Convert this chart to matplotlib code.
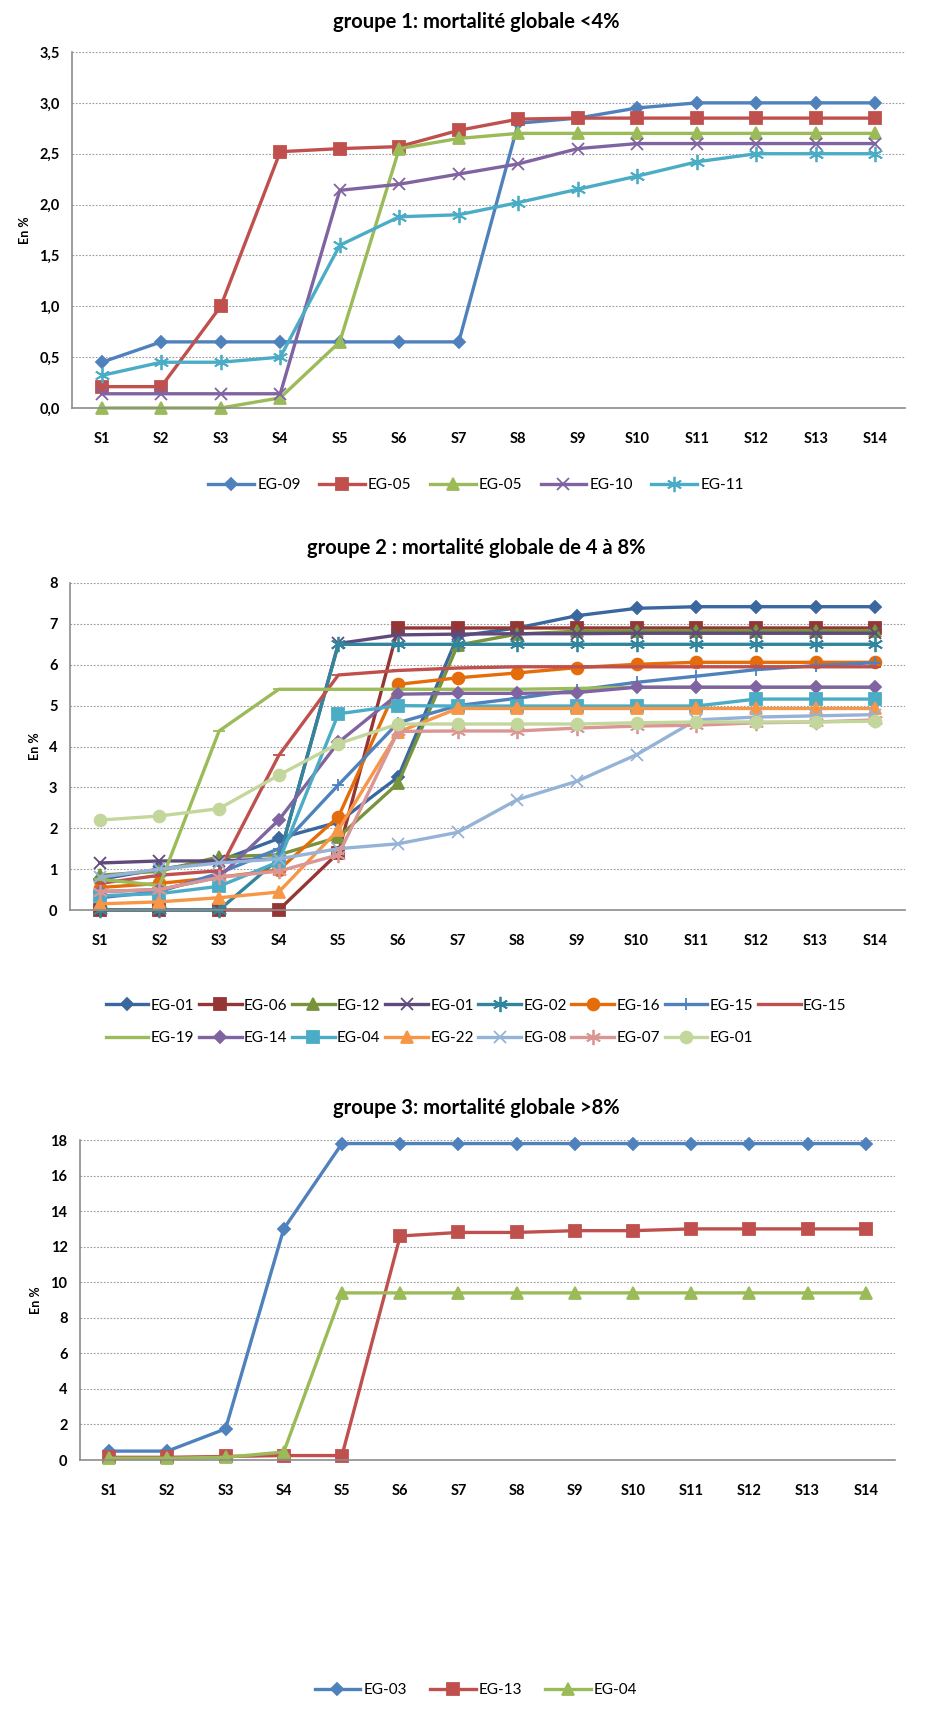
import matplotlib
matplotlib.use("Agg")
import matplotlib.pyplot as plt
from matplotlib.ticker import FuncFormatter, MultipleLocator

plt.rcParams["font.family"] = ["Lato", "DejaVu Sans"]

weeks = ["S1", "S2", "S3", "S4", "S5", "S6", "S7", "S8", "S9", "S10", "S11", "S12", "S13", "S14"]

# groupe 1
g1_labels = ["EG-09", "EG-05", "EG-05", "EG-10", "EG-11"]
g1_eg09 = [0.45, 0.65, 0.65, 0.65, 0.65, 0.65, 0.65, 2.80, 2.85, 2.95, 3.00, 3.00, 3.00, 3.00]
g1_eg05a = [0.21, 0.21, 1.00, 2.52, 2.55, 2.57, 2.73, 2.84, 2.85, 2.85, 2.85, 2.85, 2.85, 2.85]
g1_eg05b = [0.00, 0.00, 0.00, 0.10, 0.65, 2.55, 2.65, 2.70, 2.70, 2.70, 2.70, 2.70, 2.70, 2.70]
g1_eg10 = [0.14, 0.14, 0.14, 0.14, 2.14, 2.20, 2.30, 2.40, 2.55, 2.60, 2.60, 2.60, 2.60, 2.60]
g1_eg11 = [0.32, 0.45, 0.45, 0.50, 1.60, 1.88, 1.90, 2.02, 2.15, 2.28, 2.42, 2.50, 2.50, 2.50]

# groupe 2
g2_labels = ["EG-01", "EG-06", "EG-12", "EG-01", "EG-02", "EG-16", "EG-15", "EG-15",
             "EG-19", "EG-14", "EG-04", "EG-22", "EG-08", "EG-07", "EG-01"]
g2_eg01a = [0.75, 1.00, 1.20, 1.75, 2.15, 3.25, 6.70, 6.90, 7.20, 7.38, 7.42, 7.42, 7.42, 7.42]
g2_eg06 = [0.00, 0.00, 0.00, 0.00, 1.40, 6.90, 6.90, 6.90, 6.90, 6.90, 6.90, 6.90, 6.90, 6.90]
g2_eg12 = [0.85, 0.95, 1.30, 1.35, 1.78, 3.10, 6.48, 6.75, 6.82, 6.83, 6.83, 6.83, 6.83, 6.83]
g2_eg01b = [1.15, 1.20, 1.20, 1.25, 6.52, 6.73, 6.75, 6.76, 6.76, 6.77, 6.77, 6.77, 6.77, 6.77]
g2_eg02 = [0.00, 0.00, 0.00, 1.25, 6.50, 6.50, 6.50, 6.50, 6.50, 6.50, 6.50, 6.50, 6.50, 6.50]
g2_eg16 = [0.55, 0.65, 0.80, 0.98, 2.28, 5.52, 5.68, 5.80, 5.93, 6.01, 6.06, 6.06, 6.06, 6.06]
g2_eg15a = [0.30, 0.45, 0.90, 1.50, 3.06, 4.58, 5.00, 5.18, 5.38, 5.57, 5.72, 5.88, 5.98, 6.05]
g2_eg15b = [0.65, 0.85, 0.96, 3.78, 5.75, 5.86, 5.92, 5.95, 5.95, 5.95, 5.95, 5.95, 5.95, 5.95]
g2_eg19 = [0.75, 0.60, 4.38, 5.40, 5.40, 5.40, 5.40, 5.40, 5.42, 5.45, 5.45, 5.45, 5.45, 5.45]
g2_eg14 = [0.45, 0.50, 0.80, 2.20, 4.10, 5.28, 5.30, 5.30, 5.32, 5.45, 5.45, 5.45, 5.45, 5.45]
g2_eg04 = [0.35, 0.40, 0.58, 1.18, 4.80, 5.00, 4.99, 4.99, 4.99, 4.99, 4.99, 5.16, 5.16, 5.16]
g2_eg22 = [0.15, 0.20, 0.30, 0.44, 1.96, 4.35, 4.93, 4.93, 4.93, 4.93, 4.93, 4.93, 4.93, 4.93]
g2_eg08 = [0.80, 1.00, 1.15, 1.25, 1.50, 1.62, 1.90, 2.70, 3.15, 3.80, 4.65, 4.72, 4.75, 4.78]
g2_eg07 = [0.45, 0.50, 0.80, 0.95, 1.35, 4.37, 4.38, 4.38, 4.45, 4.50, 4.52, 4.58, 4.60, 4.65]
g2_eg01c = [2.20, 2.30, 2.48, 3.30, 4.07, 4.55, 4.55, 4.55, 4.55, 4.58, 4.60, 4.60, 4.60, 4.62]

# groupe 3
g3_labels = ["EG-03", "EG-13", "EG-04"]
g3_eg03 = [0.5, 0.5, 1.75, 13.0, 17.8, 17.8, 17.8, 17.8, 17.8, 17.8, 17.8, 17.8, 17.8, 17.8]
g3_eg13 = [0.15, 0.15, 0.2, 0.25, 0.25, 12.6, 12.8, 12.8, 12.9, 12.9, 13.0, 13.0, 13.0, 13.0]
g3_eg04 = [0.1, 0.1, 0.15, 0.45, 9.4, 9.4, 9.4, 9.4, 9.4, 9.4, 9.4, 9.4, 9.4, 9.4]

# Excel 2007 style palette and marker cycle
colors6 = ["#4F81BD", "#C0504D", "#9BBB59", "#8064A2", "#4BACC6", "#F79646"]
colors2 = ["#3A679E", "#963634", "#77933C", "#604A7B", "#31859C", "#E46C0A",
           "#4F81BD", "#C0504D", "#9BBB59", "#8064A2", "#4BACC6", "#F79646",
           "#95B3D7", "#D99694", "#C3D69B"]
STAR = (6, 2, 0)  # asterisk like Excel's star marker
markers = ["D", "s", "^", "x", STAR, "o", "+", "_", "_", "D", "s", "^", "x", STAR, "o"]


def msize(m):
    sizes = {"D": 6.5, "s": 8.5, "^": 8.5, "x": 8, "o": 8.5, "+": 9, "_": 9}
    return sizes.get(m, 10) if isinstance(m, str) else 11


fig = plt.figure(figsize=(9.52, 17.11), dpi=100)
H = 1711.0
W = 952.0


def make_axes(left, right, top, bottom):
    return fig.add_axes([left / W, 1 - bottom / H, (right - left) / W, (bottom - top) / H])


def style_axes(ax, ymax, step, comma=False):
    x = list(range(len(weeks)))
    ax.set_xlim(-0.5, len(weeks) - 0.5)
    ax.set_ylim(0, ymax)
    ax.set_xticks(x)
    ax.set_xticklabels(weeks, fontsize=10.5, fontweight="bold")
    ax.yaxis.set_major_locator(MultipleLocator(step))
    if comma:
        ax.yaxis.set_major_formatter(FuncFormatter(lambda v, p: f"{v:.1f}".replace(".", ",")))
    else:
        ax.yaxis.set_major_formatter(FuncFormatter(lambda v, p: f"{v:.0f}"))
    for lab in ax.get_yticklabels():
        lab.set_fontweight("bold")
        lab.set_fontsize(10.5)
    ax.tick_params(axis="x", length=0, pad=17)
    ax.tick_params(axis="y", length=0, pad=9)
    ax.grid(axis="y", color="#9a9a9a", linestyle=(0, (1.5, 1.5)), linewidth=0.8)
    ax.set_axisbelow(True)
    for s in ["top", "right"]:
        ax.spines[s].set_visible(False)
    for s in ["left", "bottom"]:
        ax.spines[s].set_color("#8c8c8c")
        ax.spines[s].set_linewidth(1.2)
    ax.set_ylabel("En %", fontsize=9, fontweight="bold", labelpad=6)


def plot_series(ax, series, labels, cols, mks):
    x = list(range(len(weeks)))
    handles = []
    for y, lab, c, m in zip(series, labels, cols, mks):
        h, = ax.plot(x, y, color=c, lw=2.4, marker=m, markersize=msize(m),
                     markeredgecolor=c, markerfacecolor=c, markeredgewidth=1.3,
                     label=lab, clip_on=False)
        handles.append(h)
    return handles


# groupe 1
ax1 = make_axes(72, 905, 52, 408)
h1 = plot_series(ax1, [g1_eg09, g1_eg05a, g1_eg05b, g1_eg10, g1_eg11], g1_labels,
                 colors6[:5], ["D", "s", "^", "x", STAR])
style_axes(ax1, 3.5, 0.5, comma=True)
fig.text(0.5, 1 - 22 / H, "groupe 1: mortalité globale <4%", ha="center", va="center",
         fontsize=14.5, fontweight="bold")
fig.legend(handles=h1, loc="center", bbox_to_anchor=(0.5, 1 - 485 / H), ncol=5,
           frameon=False, fontsize=11, handlelength=3, columnspacing=1.2, handletextpad=0.2)

# groupe 2
ax2 = make_axes(70, 905, 583, 910)
g2_series = [g2_eg01a, g2_eg06, g2_eg12, g2_eg01b, g2_eg02, g2_eg16, g2_eg15a, g2_eg15b,
             g2_eg19, g2_eg14, g2_eg04, g2_eg22, g2_eg08, g2_eg07, g2_eg01c]
h2 = plot_series(ax2, g2_series, g2_labels, colors2, markers)
style_axes(ax2, 8, 1)
fig.text(0.5, 1 - 548 / H, "groupe 2 : mortalité globale de 4 à 8%", ha="center", va="center",
         fontsize=14.5, fontweight="bold")
# legend fills column by column: reorder so that rows read left to right
order = []
for j in range(7):
    order += [j, 8 + j]
order.append(7)
fig.legend(handles=[h2[i] for i in order], loc="center", bbox_to_anchor=(0.5, 1 - 1022 / H),
           ncol=8, frameon=False, fontsize=11, handlelength=2.8, columnspacing=0.3,
           handletextpad=0.15, labelspacing=1.2)

# groupe 3
ax3 = make_axes(80, 895, 1140, 1460)
h3 = plot_series(ax3, [g3_eg03, g3_eg13, g3_eg04], g3_labels, colors6[:3], ["D", "s", "^"])
style_axes(ax3, 18, 2)
fig.text(0.5, 1 - 1108 / H, "groupe 3: mortalité globale >8%", ha="center", va="center",
         fontsize=14.5, fontweight="bold")
fig.legend(handles=h3, loc="center", bbox_to_anchor=(0.5, 1 - 1690 / H), ncol=3,
           frameon=False, fontsize=11, handlelength=3, columnspacing=1.5, handletextpad=0.2)

fig.savefig("out.png", dpi=100)
